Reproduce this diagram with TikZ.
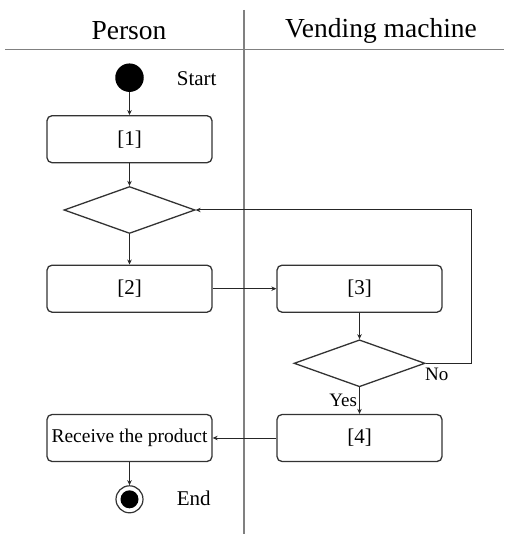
\documentclass[tikz,border=0pt]{standalone}
\usepackage{fontspec}
\setmainfont{Liberation Serif}
\usepackage{tikz}
\usetikzlibrary{arrows.meta,shapes.geometric}
\tikzset{actbox/.style={rectangle,rounded corners=5pt,draw=black!80,line width=1.3pt,minimum width=165pt,minimum height=47pt,inner sep=0pt,font=\fontsize{21}{24}\selectfont}}
\tikzset{decide/.style={diamond,draw=black!80,line width=1.3pt,minimum width=131pt,minimum height=47pt,inner sep=0pt}}
\tikzset{arr/.style={draw=black!85,line width=1pt,-{Stealth[length=5pt,width=4.5pt]}}}
\tikzset{lane/.style={draw=black!50,line width=1.3pt}}
\tikzset{lbl/.style={inner sep=0pt,font=\fontsize{21}{24}\selectfont}}

\begin{document}
\begin{tikzpicture}[x=1pt,y=-1pt]
\useasboundingbox (0,0) rectangle (504,534);
% Swimlane header and divider
\node[inner sep=0pt,font=\fontsize{27.5}{30}\selectfont] at (129,31) (hperson) {Person};
\node[inner sep=0pt,font=\fontsize{27.5}{30}\selectfont] at (381,31) (hvend) {Vending machine};
\draw[lane] (5,49.3) -- (504,49.3);
\draw[lane] (244,10) -- (244,534);

% Start node
\node[circle,fill=black,inner sep=0pt,minimum size=28.5pt] at (129.5,77.7) (start) {};
\node[lbl,anchor=west] at (176.7,79) (starttxt) {Start};

% Activities in the Person lane
\node[actbox] at (129.5,139.2) (a1) {[1]};
\node[decide] at (129.5,210) (dec1) {};
\node[actbox] at (129.5,288.7) (a2) {[2]};
\node[actbox,font=\fontsize{19.5}{22}\selectfont] at (129.5,438) (recv) {Receive the product};

% Activities in the Vending machine lane
\node[actbox] at (359.5,288.7) (a3) {[3]};
\node[decide] at (359.5,363.3) (dec2) {};
\node[actbox] at (359.5,438) (a4) {[4]};

% End node
\node[circle,draw=black!80,line width=1.2pt,inner sep=0pt,minimum size=27pt,
  path picture={\fill[black] (path picture bounding box.center) circle (9pt);}] at (129.5,499.3) (fin) {};
\node[lbl,anchor=west] at (176.7,498.5) (endtxt) {End};

% Flow
\draw[arr] (start) -- (a1);
\draw[arr] (a1) -- (dec1);
\draw[arr] (dec1) -- (a2);
\draw[arr] (a2) -- (a3);
\draw[arr] (a3) -- (dec2);
\draw[arr] (dec2) -- (a4) node[pos=0.5,left=2pt,inner sep=0pt,font=\fontsize{19}{22}\selectfont] (yes) {Yes};
\draw[arr] (a4) -- (recv);
\draw[arr] (recv) -- (fin);

% No branch back to the first decision
\coordinate (loopc) at (471.7,210);
\draw[arr] (dec2.east) -| (loopc) -- (dec1.east);
\node[inner sep=0pt,anchor=north west,font=\fontsize{19}{22}\selectfont] at (425,368) (no) {No};
\end{tikzpicture}
\end{document}
